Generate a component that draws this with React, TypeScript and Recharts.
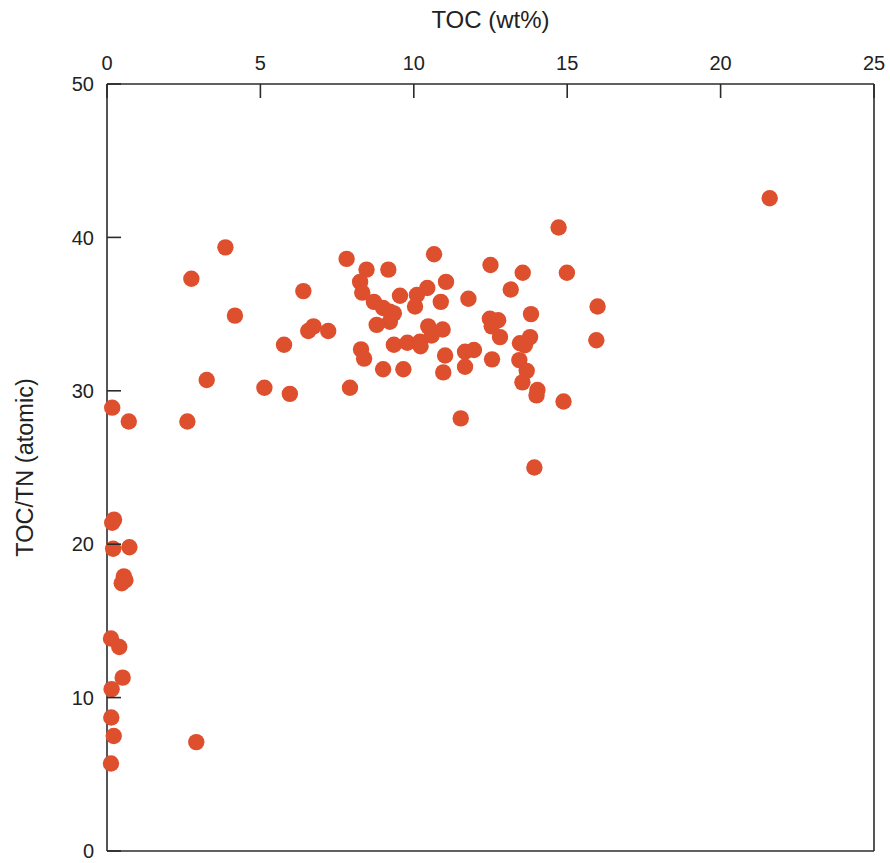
import React from "react"
import { ScatterChart, Scatter, XAxis, YAxis, Label } from "recharts"

// TOC (wt%) vs TOC/TN (atomic)
const tocValues = [
  0.17, 0.71, 2.62, 0.23, 0.17, 0.2, 0.73, 0.55, 0.6, 0.48, 0.13, 0.4, 0.51, 0.15, 0.14, 0.22, 2.91, 0.13,
  3.86, 2.75, 6.4, 4.17, 6.73, 6.56, 7.21, 5.77, 3.25, 5.13, 5.96, 7.92,
  7.81, 8.46, 9.17, 10.66, 8.25, 8.32, 8.7, 9.0, 9.22, 9.35, 9.22, 8.79, 9.55, 10.1, 10.04, 10.44,
  11.05, 10.88, 11.78, 10.47, 10.94, 10.58, 9.35, 9.79, 10.2, 10.22, 8.28, 8.38, 9.0, 9.66,
  11.02, 10.96, 11.67, 11.96, 11.67, 11.53,
  14.72, 12.5, 13.55, 14.99, 13.16, 15.99, 13.82, 12.48, 12.75, 12.54, 12.81, 13.79, 13.46, 13.62,
  15.95, 12.55, 13.44, 13.68, 13.54, 14.03, 14.0, 14.88, 13.93, 21.6,
]
const ratioValues = [
  28.9, 28.0, 28.0, 21.6, 21.4, 19.7, 19.8, 17.9, 17.65, 17.45, 13.85, 13.3, 11.3, 10.55, 8.7, 7.5, 7.1, 5.7,
  39.35, 37.3, 36.5, 34.9, 34.2, 33.9, 33.9, 33.0, 30.7, 30.2, 29.8, 30.2,
  38.6, 37.9, 37.9, 38.9, 37.1, 36.4, 35.8, 35.4, 35.15, 35.05, 34.5, 34.3, 36.2, 36.25, 35.5, 36.7,
  37.1, 35.8, 36.0, 34.2, 34.0, 33.6, 33.0, 33.13, 33.2, 32.9, 32.7, 32.1, 31.4, 31.4,
  32.3, 31.2, 32.55, 32.66, 31.57, 28.2,
  40.65, 38.2, 37.7, 37.7, 36.6, 35.5, 35.0, 34.7, 34.6, 34.2, 33.5, 33.5, 33.1, 32.97,
  33.3, 32.05, 32.0, 31.3, 30.55, 30.05, 29.7, 29.3, 25.0, 42.55,
]
const xTicks = [0, 5, 10, 15, 20, 25]
const yTicks = [0, 10, 20, 30, 40, 50]

const data = tocValues.map((toc, i) => ({ toc, ratio: ratioValues[i] }))

const DOT = "#dd4f2d"
const AXIS = "#2b2b2b"
const FONT = "'Liberation Sans', Arial, sans-serif"
const TICK_LEN = 14

const Dot = (props: any) => <circle cx={props.cx} cy={props.cy} r={8.2} fill={DOT} />

// inward ticks drawn by hand, label outside
const TopTick = ({ x, y, payload }: any) => (
  <g>
    <text x={x} y={y} textAnchor="middle" fontFamily={FONT} fontSize={20} fill="#222">
      {payload.value}
    </text>
    <line x1={x} x2={x} y1={y + 14} y2={y + 14 + TICK_LEN} stroke={AXIS} strokeWidth={1.6} />
  </g>
)
const LeftTick = ({ x, y, payload }: any) => (
  <g>
    <text x={x} y={y} dy="0.36em" textAnchor="end" fontFamily={FONT} fontSize={20} fill="#222">
      {payload.value}
    </text>
    <line x1={x + 13} x2={x + 13 + TICK_LEN} y1={y} y2={y} stroke={AXIS} strokeWidth={1.6} />
  </g>
)
const BottomTick = ({ x, y }: any) => (
  <line x1={x} x2={x} y1={y} y2={y - TICK_LEN} stroke={AXIS} strokeWidth={1.6} />
)
const RightTick = ({ x, y }: any) => (
  <line x1={x} x2={x - TICK_LEN} y1={y} y2={y} stroke={AXIS} strokeWidth={1.6} />
)

export default function App() {
  return (
    <div style={{ position: "absolute", left: 0, top: 0 }}>
      <ScatterChart width={890} height={863} margin={{ top: 0, right: 0, bottom: 0, left: 0 }}>
        <XAxis
          xAxisId="top"
          orientation="top"
          type="number"
          dataKey="toc"
          domain={[0, 25]}
          ticks={xTicks}
          height={84}
          tickSize={0}
          tickMargin={14}
          tickLine={false}
          stroke={AXIS}
          strokeWidth={1.6}
          tick={TopTick}
        >
          <Label
            content={({ viewBox }: any) => (
              <text x={viewBox.x + viewBox.width / 2} y={28} textAnchor="middle" fontFamily={FONT} fontSize={24} fill="#222">
                TOC (wt%)
              </text>
            )}
          />
        </XAxis>
        <XAxis
          xAxisId="bottom"
          orientation="bottom"
          type="number"
          domain={[0, 25]}
          ticks={xTicks}
          height={12}
          tickSize={0}
          tickMargin={0}
          tickLine={false}
          tick={BottomTick}
          stroke={AXIS}
          strokeWidth={1.6}
        />
        <YAxis
          yAxisId="left"
          type="number"
          dataKey="ratio"
          domain={[0, 50]}
          ticks={yTicks}
          width={107}
          tickSize={0}
          tickMargin={13}
          tickLine={false}
          stroke={AXIS}
          strokeWidth={1.6}
          tick={LeftTick}
        >
          <Label
            content={({ viewBox }: any) => {
              const cx = 33
              const cy = viewBox.y + viewBox.height / 2
              return (
                <text x={cx} y={cy} textAnchor="middle" transform={`rotate(-90, ${cx}, ${cy})`} fontFamily={FONT} fontSize={23.5} fill="#222">
                  TOC/TN (atomic)
                </text>
              )
            }}
          />
        </YAxis>
        <YAxis
          yAxisId="right"
          orientation="right"
          type="number"
          domain={[0, 50]}
          ticks={yTicks}
          width={16}
          tickSize={0}
          tickMargin={0}
          tickLine={false}
          tick={RightTick}
          stroke={AXIS}
          strokeWidth={1.6}
        />
        <Scatter
          data={data}
          xAxisId="top"
          yAxisId="left"
          shape={Dot}
          isAnimationActive={false}
        />
      </ScatterChart>
    </div>
  )
}
